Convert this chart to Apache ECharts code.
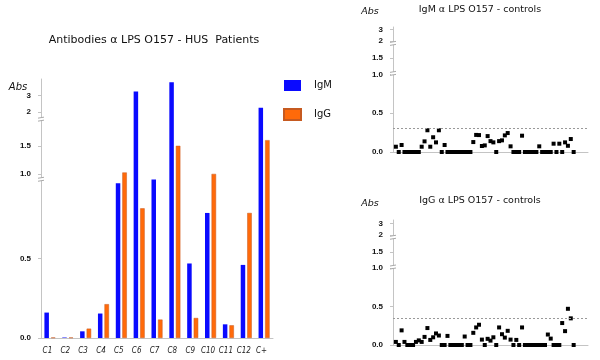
<!DOCTYPE html>
<html><head><meta charset="utf-8">
<script src="https://cdn.jsdelivr.net/npm/echarts@6/dist/echarts.min.js"></script>
<style>html,body{margin:0;padding:0;background:#fff}#c{width:600px;height:360px}</style>
</head><body><div id="c"></div>
<script>
// ---------- data ----------
const categories = ['C1','C2','C3','C4','C5','C6','C7','C8','C9','C10','C11','C12','C+'];
const igmPatients = [0.16, 0.003, 0.042, 0.154, 0.974, 3.25, 0.997, 3.82, 0.469, 0.787, 0.086, 0.46, 2.26];
const iggPatients = [0.003, 0.003, 0.059, 0.213, 1.03, 0.816, 0.116, 1.5, 0.126, 1.005, 0.08, 0.787, 1.60];
const igmControls = [0.068,0,0.09, 0,0,0,0,0,0, 0.068,0.137,0.28,0.068,0.19,0.124,0.28, 0, 0.09,
  0,0,0,0,0,0,0,0,0, 0.128,0.22,0.218,0.077,0.085,0.205,0.14,0.124, 0, 0.14,0.15,0.214,0.244,0.073,
  0,0,0, 0.21, 0,0,0,0,0, 0.073, 0,0,0,0, 0.107,0,0.107,0,0.124,0.08,0.167,0];
const iggControls = [0.04,0,0.19,0.04, 0,0,0, 0.04,0.06,0.04,0.105,0.22,0.066,0.1,0.15,0.123, 0,0, 0.118,
  0,0,0,0,0, 0.11, 0,0, 0.158,0.228,0.263,0.07,0,0.08,0.057,0.1,0,0.228,0.14,0.096,0.184,0.07,0,0.066,0,0.228,
  0,0,0,0,0,0,0,0, 0.136,0.083, 0,0,0, 0.285,0.18,0.47,0.346,0];
const igmCutoff = 0.3;
const iggCutoff = 0.353;
const tickValues = [0, 0.5, 1.0, 1.5, 2, 3];
const tickLabels = ['0.0', '0.5', '1.0', '1.5', '2', '3'];
const seriesNames = ['IgM', 'IgG'];
const titles = ['Antibodies \u03b1 LPS O157 - HUS  Patients', 'IgM \u03b1 LPS O157 - controls', 'IgG \u03b1 LPS O157 - controls'];

// ---------- broken axis mapping ----------
function broken(b1, s1, b2, s2) {
  return v => v < 1 ? v : (v < 2 ? b1 + s1 * (v - 1) : b2 + s2 * (v - 2));
}
const leftT = broken(1.031, 0.357, 1.422, 0.103);
const rightT = broken(1.0, 0.42, 1.43, 0.145);

const grids = [
  { left: 41, right: 327, top: 79, bottom: 22 },
  { left: 393, right: 12, top: 27, bottom: 208 },
  { left: 393, right: 12, top: 220, bottom: 15 }
];
const axisGray = '#c4c4c4';
const textFont = '"Comic Sans MS", "DejaVu Sans", sans-serif';

function yAxisFor(gridIndex, T, max) {
  const vals = tickValues.map(T);
  return {
    type: 'value', gridIndex, min: 0, max,
    splitLine: { show: false },
    axisLine: { show: true, lineStyle: { color: axisGray, width: 1 } },
    axisTick: { show: true, customValues: vals, length: 3, lineStyle: { color: axisGray } },
    axisLabel: {
      customValues: vals, margin: 10, fontFamily: 'Liberation Sans', fontWeight: 'bold',
      fontSize: 8, color: '#111',
      formatter: v => { const i = vals.findIndex(x => Math.abs(x - v) < 1e-6); return i < 0 ? '' : tickLabels[i]; }
    }
  };
}
function xValueAxis(gridIndex) {
  return {
    type: 'value', gridIndex, min: 0, max: 68,
    splitLine: { show: false }, axisTick: { show: false }, axisLabel: { show: false },
    axisLine: { show: true, onZero: false, lineStyle: { color: axisGray, width: 1 } }
  };
}
function controlSeries(name, values, cutoff, idx) {
  return {
    type: 'scatter', name, xAxisIndex: idx, yAxisIndex: idx,
    symbol: 'rect', symbolSize: 4,
    itemStyle: { color: '#000', opacity: 1 },
    data: values.map((v, i) => [i + 1, rightT(v)]),
    markLine: {
      silent: true, symbol: 'none', label: { show: false },
      lineStyle: { type: [2, 2], color: '#999', width: 1 },
      data: [{ yAxis: rightT(cutoff) }]
    },
    z: 3
  };
}

const chart = echarts.init(document.getElementById('c'));
const option = {
  animation: false,
  backgroundColor: '#fff',
  grid: grids,
  xAxis: [
    {
      type: 'category', gridIndex: 0, data: categories,
      axisLine: { show: true, lineStyle: { color: axisGray, width: 1 } },
      axisTick: { show: false },
      axisLabel: { fontFamily: 'DejaVu Sans Condensed, DejaVu Sans', fontStyle: 'italic', fontSize: 8, color: '#222', margin: 9, padding: [0, 5, 0, 0], interval: 0 }
    },
    xValueAxis(1), xValueAxis(2)
  ],
  yAxis: [yAxisFor(0, leftT, 1.63), yAxisFor(1, rightT, 1.61), yAxisFor(2, rightT, 1.623)],
  legend: {
    data: seriesNames, orient: 'vertical', left: 283, top: 80, padding: 0,
    itemWidth: 17, itemHeight: 11, itemGap: 17, icon: 'rect',
    textStyle: { fontFamily: textFont, fontSize: 10, color: '#111', padding: [0, 0, 0, 8] }
  },
  series: [
    {
      type: 'bar', name: seriesNames[0], xAxisIndex: 0, yAxisIndex: 0,
      barWidth: 4.5, barGap: '45%',
      itemStyle: { color: '#0a0aff' },
      data: igmPatients.map(leftT)
    },
    {
      type: 'bar', name: seriesNames[1], xAxisIndex: 0, yAxisIndex: 0,
      barWidth: 4.5, barGap: '45%',
      itemStyle: { color: '#ff6a0a', borderColor: '#c65a20', borderWidth: 0.5 },
      data: iggPatients.map(leftT)
    },
    controlSeries('IgM controls', igmControls, igmCutoff, 1),
    controlSeries('IgG controls', iggControls, iggCutoff, 2)
  ],
  graphic: [
    { type: 'text', x: 154, y: 40, style: { text: titles[0], font: '11px ' + textFont, fill: '#111', textAlign: 'center', textVerticalAlign: 'middle' } },
    { type: 'text', x: 18, y: 87, style: { text: 'Abs', font: 'italic 10px ' + textFont, fill: '#111', textAlign: 'center', textVerticalAlign: 'middle' } },
    { type: 'text', x: 480, y: 10, style: { text: titles[1], font: '9.5px ' + textFont, fill: '#111', textAlign: 'center', textVerticalAlign: 'middle' } },
    { type: 'text', x: 370, y: 12, style: { text: 'Abs', font: 'italic 9.5px ' + textFont, fill: '#111', textAlign: 'center', textVerticalAlign: 'middle' } },
    { type: 'text', x: 480, y: 201, style: { text: titles[2], font: '9.5px ' + textFont, fill: '#111', textAlign: 'center', textVerticalAlign: 'middle' } },
    { type: 'text', x: 370, y: 204, style: { text: 'Abs', font: 'italic 9.5px ' + textFont, fill: '#111', textAlign: 'center', textVerticalAlign: 'middle' } }
  ]
};
chart.setOption(option);

// break marks on the y axes (positions derived from the axis scale)
const breaks = [
  { axis: 0, t: [leftT(0.999) , leftT(1.97)] },
  { axis: 1, t: [rightT(1.03), rightT(1.95)] },
  { axis: 2, t: [rightT(1.03), rightT(1.95)] }
];
const marks = [];
breaks.forEach(b => {
  const x = grids[b.axis].left;
  b.t.forEach(t => {
    const y = chart.convertToPixel({ yAxisIndex: b.axis }, t);
    marks.push({ type: 'rect', shape: { x: x - 2, y: y - 1.5, width: 4, height: 3 }, style: { fill: '#fff' }, z: 100 });
    marks.push({ type: 'line', shape: { x1: x - 3, y1: y - 1, x2: x + 3, y2: y - 2 }, style: { stroke: '#aaa', lineWidth: 1 }, z: 101 });
    marks.push({ type: 'line', shape: { x1: x - 3, y1: y + 2, x2: x + 3, y2: y + 1 }, style: { stroke: '#aaa', lineWidth: 1 }, z: 101 });
  });
});
chart.setOption({ graphic: option.graphic.concat(marks) });
</script>
</body></html>
